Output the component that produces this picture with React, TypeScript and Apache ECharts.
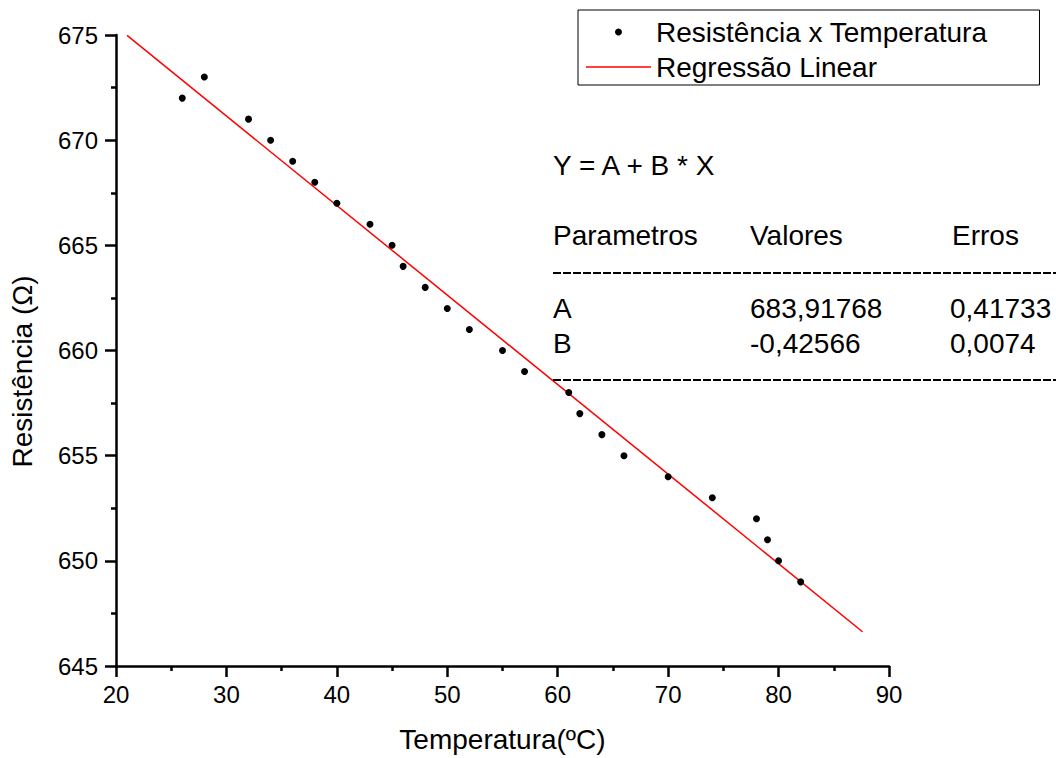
import React, { useEffect, useRef } from "react";
import * as echarts from "echarts";

const temperatures = [26, 28, 32, 34, 36, 38, 40, 43, 45, 46, 48, 50, 52, 55, 57, 61, 62, 64, 66, 70, 74, 78, 79, 80, 82];
const resistances = [672, 673, 671, 670, 669, 668, 667, 666, 665, 664, 663, 662, 661, 660, 659, 658, 657, 656, 655, 654, 653, 652, 651, 650, 649];
const fitLineX = [21, 87.6];
const fitLineY = [674.98, 646.63];
const legendNames = ["Resistência x Temperatura", "Regressão Linear"];
const equationText = "Y = A + B * X";
const tableHeader = ["Parametros", "Valores", "Erros"];
const tableRowA = ["A", "683,91768", "0,41733"];
const tableRowB = ["B", "-0,42566", "0,0074"];

const FONT = '"Liberation Sans", Arial, Helvetica, sans-serif';

export default function App() {
  const ref = useRef<HTMLDivElement>(null);
  useEffect(() => {
    if (!ref.current) return;
    const chart = echarts.init(ref.current, undefined, { renderer: "svg" });
    const scatterData = temperatures.map((t, i) => [t, resistances[i]]);
    const lineData = fitLineX.map((x, i) => [x, fitLineY[i]]);
    const txt = (text: string, x: number, y: number) => ({
      type: "text",
      x,
      y,
      z: 10,
      style: {
        text,
        fontSize: 28,
        fontFamily: FONT,
        fill: "#000",
        align: "left",
        verticalAlign: "middle",
      },
    });
    const cols = [553, 750, 950];
    const tickFont = { fontSize: 24, fontFamily: FONT, color: "#000" };
    const axisCommon = {
      axisLine: { show: true, onZero: false, lineStyle: { color: "#000", width: 2.5 } },
      axisTick: { show: true, inside: false, length: 11, lineStyle: { color: "#000", width: 2.5 } },
      minorTick: { show: true, splitNumber: 2, length: 5, lineStyle: { color: "#000", width: 2.5 } },
      splitLine: { show: false },
      minorSplitLine: { show: false },
    };
    const option: any = {
      animation: false,
      backgroundColor: "#fff",
      textStyle: { fontFamily: FONT, color: "#000" },
      grid: { left: 115, right: 167, top: 35, bottom: 92, containLabel: false },
      legend: {
        left: 578,
        top: 10,
        orient: "vertical",
        padding: [8, 52, 4, 8],
        itemGap: 7,
        itemWidth: 65,
        itemHeight: 7,
        borderColor: "#000",
        borderWidth: 1,
        borderRadius: 0,
        textStyle: { fontSize: 28, fontFamily: FONT, color: "#000" },
        data: [
          { name: legendNames[0], icon: "circle", itemStyle: { color: "#000", opacity: 1 } },
          { name: legendNames[1], icon: "path://M0,0 L65,0 L65,1.5 L0,1.5 Z", itemStyle: { color: "#ff0000" } },
        ],
      },
      xAxis: {
        type: "value",
        min: 20,
        max: 90,
        interval: 10,
        name: "Temperatura(ºC)",
        nameLocation: "middle",
        nameGap: 59,
        nameTextStyle: { fontSize: 28, fontFamily: FONT, color: "#000" },
        axisLabel: { margin: 16, ...tickFont },
        ...axisCommon,
      },
      yAxis: {
        type: "value",
        min: 645,
        max: 675,
        interval: 5,
        name: "Resistência (Ω)",
        nameLocation: "middle",
        nameRotate: 90,
        nameGap: 80,
        nameTextStyle: { fontSize: 28, fontFamily: FONT, color: "#000", padding: [0, 42, 0, 0] },
        axisLabel: { margin: 18, ...tickFont },
        ...axisCommon,
      },
      series: [
        {
          name: legendNames[0],
          type: "scatter",
          data: scatterData,
          symbol: "circle",
          symbolSize: 7,
          itemStyle: { color: "#000", opacity: 1 },
          z: 3,
        },
        {
          name: legendNames[1],
          type: "line",
          data: lineData,
          symbol: "none",
          showSymbol: false,
          lineStyle: { color: "#ff0000", width: 1.5 },
          itemStyle: { color: "#ff0000" },
          z: 2,
        },
      ],
      graphic: [
        txt(equationText, cols[0], 165),
        txt(tableHeader[0], cols[0], 235),
        txt(tableHeader[1], cols[1], 235),
        txt(tableHeader[2], 952, 235),
        {
          type: "line",
          z: 10,
          shape: { x1: 553, y1: 273, x2: 1056, y2: 273 },
          style: { stroke: "#000", lineWidth: 2, lineDash: [8, 2] },
        },
        txt(tableRowA[0], cols[0], 308),
        txt(tableRowA[1], cols[1], 308),
        txt(tableRowA[2], cols[2], 308),
        txt(tableRowB[0], cols[0], 343),
        txt(tableRowB[1], cols[1], 343),
        txt(tableRowB[2], cols[2], 343),
        {
          type: "line",
          z: 10,
          shape: { x1: 553, y1: 380, x2: 1056, y2: 380 },
          style: { stroke: "#000", lineWidth: 2, lineDash: [8, 2] },
        },
      ],
    };
    chart.setOption(option);
    return () => chart.dispose();
  }, []);
  return (
    <div
      ref={ref}
      style={{ position: "fixed", left: 0, top: 0, width: 1056, height: 758, background: "#fff" }}
    />
  );
}
